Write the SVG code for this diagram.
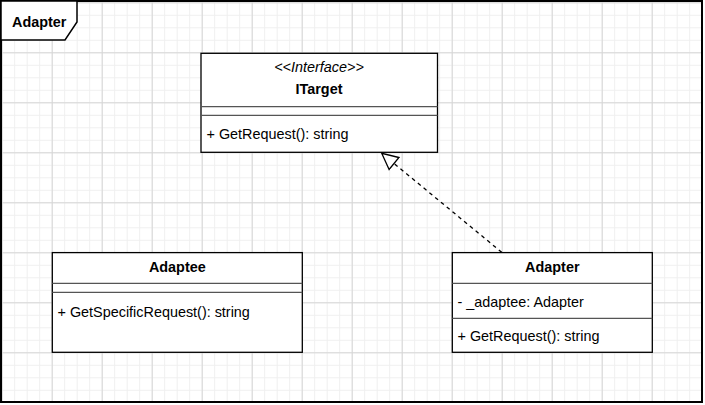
<svg xmlns="http://www.w3.org/2000/svg" width="705" height="405" viewBox="0 0 705 405">
  <style>
    text { font-family: "Liberation Sans", Arial, sans-serif; font-size: 14.4px; fill: #000; }
    .title { font-weight: bold; text-anchor: middle; }
    .stereo { font-style: italic; text-anchor: middle; }
    .box { fill: #fff; stroke: #000; stroke-width: 1.3; }
    .sep { stroke: #555; stroke-width: 1.2; fill: none; }
    .frame { fill: none; stroke: #000; stroke-width: 2; }
    .dep { fill: none; stroke: #000; stroke-width: 1.3; stroke-dasharray: 3.75 3.75; }
  </style>
  <defs>
    <pattern id="minor" patternUnits="userSpaceOnUse" x="1.7" y="2.3" width="12.5" height="12.5">
      <path d="M0,0.5 H12.5 M0.5,0 V12.5" stroke="#efefef" stroke-width="1" fill="none"/>
    </pattern>
    <pattern id="major" patternUnits="userSpaceOnUse" x="1.7" y="2.3" width="50" height="50">
      <path d="M0,0.5 H50 M0.5,0 V50" stroke="#d6d6d6" stroke-width="1" fill="none"/>
    </pattern>
    <marker id="hollow" markerUnits="userSpaceOnUse" viewBox="-1 -1 18 18" markerWidth="18" markerHeight="18" refX="16" refY="8" orient="auto">
      <path d="M0,0.25 L16,8 L0,15.75 Z" fill="#fff" stroke="#000" stroke-width="1.3" stroke-dasharray="none"/>
    </marker>
  </defs>
  <rect x="0" y="0" width="705" height="405" fill="#fff"/>
  <rect x="1" y="1" width="701" height="401" fill="url(#minor)"/>
  <rect x="1" y="1" width="701" height="401" fill="url(#major)"/>

  <g id="frame">
    <rect class="frame" x="1" y="1" width="701" height="401"/>
    <path d="M1,1 H77 V22 L65,40 H1 Z" fill="#fff" stroke="#000" stroke-width="1.5"/>
    <text x="12" y="26.5" font-weight="bold">Adapter</text>
  </g>

  <g id="ITarget">
    <rect class="box" x="201" y="53.3" width="236.5" height="99"/>
    <line class="sep" x1="201" y1="106.7" x2="437.5" y2="106.7"/>
    <line class="sep" x1="201" y1="115.3" x2="437.5" y2="115.3"/>
    <text class="stereo" x="319" y="71.7">&lt;&lt;Interface&gt;&gt;</text>
    <text class="title" x="319" y="94.3">ITarget</text>
    <text x="206.5" y="138.5">+ GetRequest(): string</text>
  </g>

  <g id="Adaptee">
    <rect class="box" x="52.3" y="252.6" width="250" height="99.7"/>
    <line class="sep" x1="52.3" y1="283.3" x2="302.3" y2="283.3"/>
    <line class="sep" x1="52.3" y1="292.3" x2="302.3" y2="292.3"/>
    <text class="title" x="177.3" y="272">Adaptee</text>
    <text x="57.5" y="317">+ GetSpecificRequest(): string</text>
  </g>

  <g id="Adapter">
    <rect class="box" x="452.3" y="252.6" width="200" height="99.7"/>
    <line class="sep" x1="452.3" y1="283.3" x2="652.3" y2="283.3"/>
    <line class="sep" x1="452.3" y1="318.3" x2="652.3" y2="318.3"/>
    <text class="title" x="552.3" y="272">Adapter</text>
    <text x="457.5" y="306.7">- _adaptee: Adapter</text>
    <text x="457.5" y="341.3">+ GetRequest(): string</text>
  </g>

  <g id="connectors">
    <path class="dep" d="M501.7,252.3 L381.7,153.3" marker-end="url(#hollow)"/>
  </g>
</svg>
